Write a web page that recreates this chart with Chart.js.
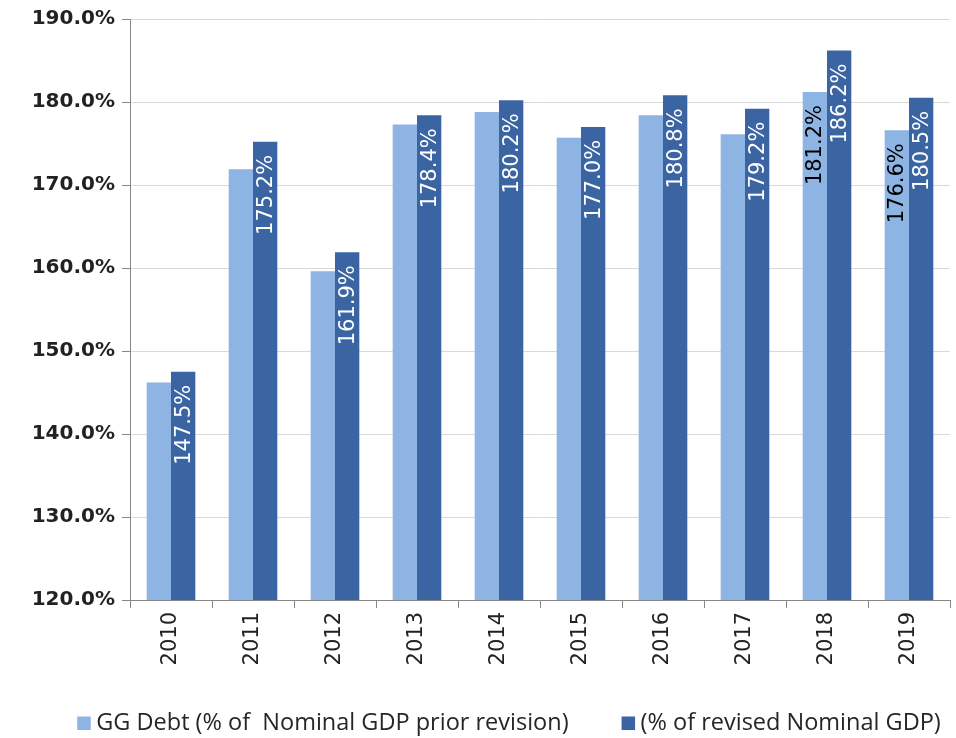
<!DOCTYPE html>
<html>
<head>
<meta charset="utf-8">
<title>GG Debt</title>
<script src="https://cdn.jsdelivr.net/npm/chart.js@4/dist/chart.umd.min.js"></script>
<style>
  html, body { margin: 0; padding: 0; background: #ffffff; }
  #wrap { width: 956px; height: 738px; position: relative; }
</style>
</head>
<body>
<div id="wrap"><canvas id="chart" width="956" height="738"></canvas></div>
<script>
// Years on the category axis
const years = ['2010', '2011', '2012', '2013', '2014', '2015', '2016', '2017', '2018', '2019'];

// GG debt as % of nominal GDP before the revision
const priorRevision = [146.2, 171.9, 159.6, 177.3, 178.8, 175.7, 178.4, 176.1, 181.2, 176.6];

// GG debt as % of revised nominal GDP
const revisedGdp = [147.5, 175.2, 161.9, 178.4, 180.2, 177.0, 180.8, 179.2, 186.2, 180.5];

// Which years carry a value label on each series
const priorLabelYears = ['2018', '2019'];
const revisedLabelYears = years;

// Value axis ticks
const yTicks = [120, 130, 140, 150, 160, 170, 180, 190];

const seriesNames = ['GG Debt (% of  Nominal GDP prior revision)', '(% of revised Nominal GDP)'];

const LIGHT = '#8DB4E2';
const DARK = '#3A64A2';

// Rotated value labels drawn inside the top of each bar
const barLabels = {
  id: 'barLabels',
  afterDatasetsDraw(chart) {
    const ctx = chart.ctx;
    chart.data.datasets.forEach((ds, di) => {
      const meta = chart.getDatasetMeta(di);
      const shown = ds.labelYears || [];
      meta.data.forEach((bar, i) => {
        if (!shown.includes(chart.data.labels[i])) return;
        const v = ds.data[i];
        ctx.save();
        ctx.font = '21px "DejaVu Sans"';
        ctx.fillStyle = ds.labelColor;
        ctx.translate(bar.x + 1, bar.y + 13);
        ctx.rotate(-Math.PI / 2);
        ctx.textAlign = 'right';
        ctx.textBaseline = 'middle';
        ctx.fillText(v.toFixed(1) + '%', 0, 0);
        ctx.restore();
      });
    });
  }
};

// Legend row along the bottom edge
const bottomLegend = {
  id: 'bottomLegend',
  afterDraw(chart) {
    const ctx = chart.ctx;
    const box = 13.5, boxGap = 5.5, itemGap = 53;
    const centerX = 509, textY = 723;
    ctx.save();
    ctx.font = '23.5px "Open Sans"';
    const widths = chart.data.datasets.map(ds => ctx.measureText(ds.label).width);
    let total = itemGap * (widths.length - 1);
    widths.forEach(w => { total += box + boxGap + w; });
    let x = centerX - total / 2;
    chart.data.datasets.forEach((ds, i) => {
      ctx.fillStyle = ds.backgroundColor;
      ctx.fillRect(x, textY - 6.5, box, box);
      ctx.fillStyle = '#262626';
      ctx.textAlign = 'left';
      ctx.textBaseline = 'middle';
      ctx.fillText(ds.label, x + box + boxGap, textY);
      x += box + boxGap + widths[i] + itemGap;
    });
    ctx.restore();
  }
};

new Chart(document.getElementById('chart'), {
  type: 'bar',
  data: {
    labels: years,
    datasets: [
      {
        label: seriesNames[0],
        data: priorRevision,
        backgroundColor: LIGHT,
        labelYears: priorLabelYears,
        labelColor: '#000000'
      },
      {
        label: seriesNames[1],
        data: revisedGdp,
        backgroundColor: DARK,
        labelYears: revisedLabelYears,
        labelColor: '#ffffff'
      }
    ]
  },
  options: {
    responsive: false,
    animation: false,
    devicePixelRatio: 1,
    layout: { padding: { left: 0, right: 6, top: 17, bottom: 0 } },
    datasets: {
      bar: { categoryPercentage: 0.593, barPercentage: 1.0, borderWidth: 0 }
    },
    plugins: {
      legend: { display: false },
      tooltip: { enabled: false }
    },
    scales: {
      x: {
        grid: {
          offset: true,
          drawOnChartArea: false,
          tickLength: 8,
          tickColor: '#868686'
        },
        border: { color: '#868686', width: 1 },
        ticks: {
          minRotation: 90,
          maxRotation: 90,
          padding: 4,
          color: '#222222',
          font: { family: 'DejaVu Sans', size: 21 }
        },
        afterFit(scale) { scale.height = 138; }
      },
      y: {
        min: yTicks[0],
        max: yTicks[yTicks.length - 1],
        afterBuildTicks(scale) { scale.ticks = yTicks.map(v => ({ value: v })); },
        grid: {
          color: '#D9D9D9',
          tickColor: '#868686',
          tickLength: 8
        },
        border: { color: '#868686', width: 1 },
        ticks: {
          padding: 7,
          color: '#222222',
          font: { family: 'DejaVu Sans', size: 20, weight: 'bold' },
          callback: v => Number(v).toFixed(1) + '%'
        },
        afterFit(scale) { scale.width = 130; }
      }
    }
  },
  plugins: [barLabels, bottomLegend]
});
</script>
</body>
</html>
